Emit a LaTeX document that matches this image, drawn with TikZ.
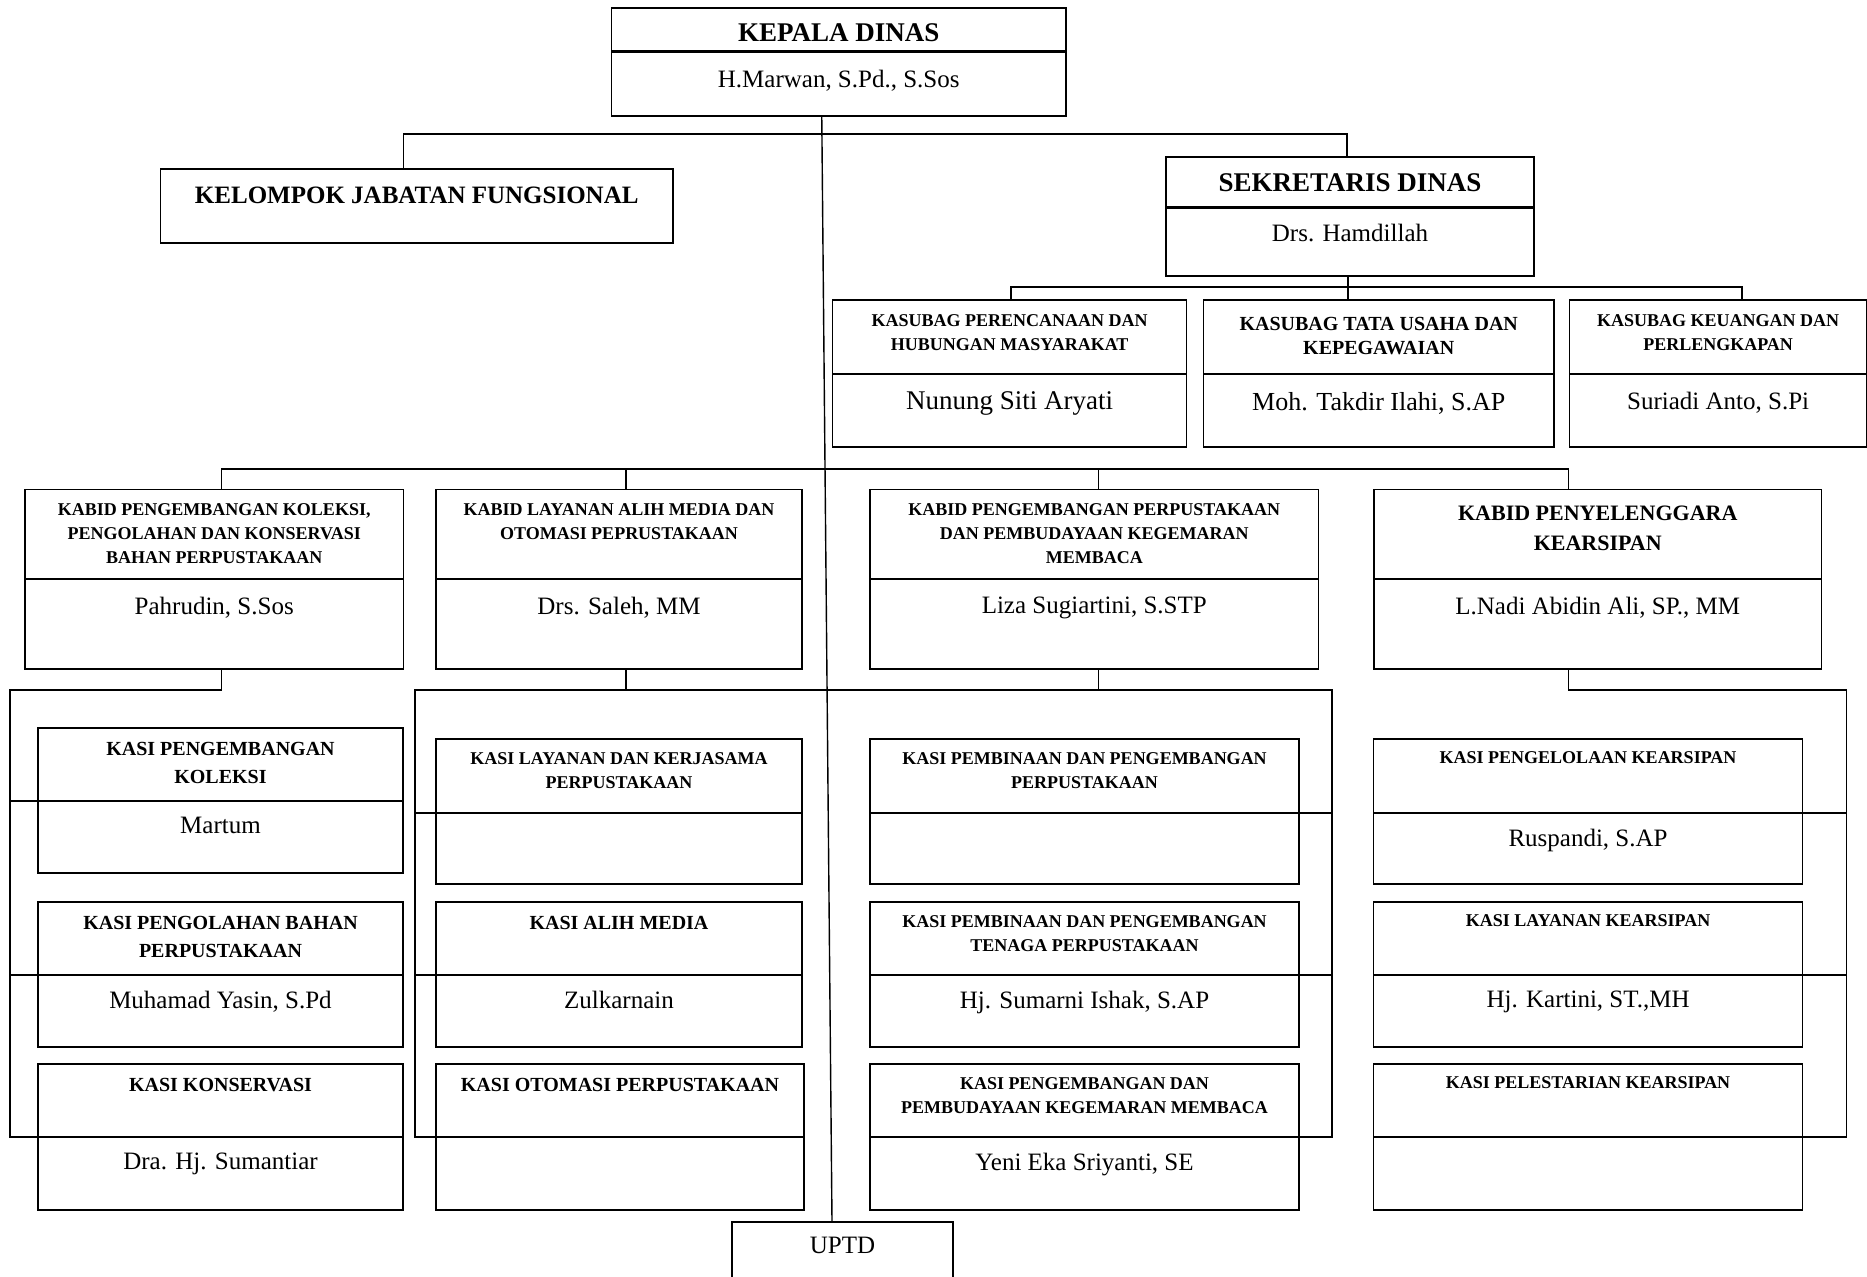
\documentclass[tikz,border=0pt]{standalone}
\usepackage{fontspec}
\setmainfont{Liberation Serif}
\usepackage{tikz}
\usetikzlibrary{calc}
\tikzset{
  kotak/.style={draw, line width=1.4pt, inner sep=0pt, outer sep=0pt, anchor=north west},
  garis/.style={line width=1.4pt},
  garisTebal/.style={line width=3pt}  % divider under KEPALA / SEKRETARIS
}
\newcommand{\Judul}[2]{\fontsize{#1}{#2}\selectfont\bfseries}
\newcommand{\Nama}[1]{\fontsize{#1}{#1}\selectfont}
\newcommand{\Kotak}[6]{% #1=name, #2=top left corner, #3=width, #4=height, #5=gap above text, #6=text
  \node[kotak] (#1) at (#2) {\parbox[c][#4pt][t]{#3pt}{\centering\vspace*{#5pt}\mbox{}#6\par}};%
}
\newcommand{\Jabatan}[9]{% #1=name, #2=corner, #3=width, #4/#5=heights, #6=gap, #7=title, #8=gap, #9=official
  \Kotak{#1}{#2}{#3}{#4}{#6}{#7}%
  \Kotak{#1n}{#1.south west}{#3}{#5}{#8}{#9}%
}

\begin{document}
\begin{tikzpicture}[x=1pt, y=-1pt]
  \useasboundingbox (0,0) rectangle (1867,1276);
  % top level
  \Jabatan{kd}{611.5,8}{454.5}{44}{64}{16}{\Judul{27}{32}KEPALA DINAS}{18.5}{\Nama{25}H.Marwan, S.Pd., S.Sos}
  \draw[garisTebal] (kdn.north west) -- (kdn.north east);
  \Kotak{kjf}{160.5,169}{512.5}{74}{17.7}{\Judul{25}{30}KELOMPOK JABATAN FUNGSIONAL}
  \Jabatan{sek}{1166,157}{368}{50}{69}{17}{\Judul{27}{32}SEKRETARIS DINAS}{16.7}{\Nama{25}Drs. Hamdillah}
  \draw[garisTebal] (sekn.north west) -- (sekn.north east);
  % kasubag
  \Jabatan{ks1}{832.7,300}{354}{74}{73}{14.8}{\Judul{18}{23.5}KASUBAG PERENCANAAN DAN\\ HUBUNGAN MASYARAKAT}{18}{\Nama{27}Nunung Siti Aryati}
  \Jabatan{ks2}{1203.5,300}{350.5}{74}{73}{17.4}{\Judul{20}{24}KASUBAG TATA USAHA DAN\\ KEPEGAWAIAN}{18.3}{\Nama{26}Moh. Takdir Ilahi, S.AP}
  \Jabatan{ks3}{1569.6,300}{297}{74}{73}{14.8}{\Judul{18}{23.5}KASUBAG KEUANGAN DAN\\ PERLENGKAPAN}{18.5}{\Nama{25}Suriadi Anto, S.Pi}
  % kabid
  \Jabatan{kb1}{25,489.5}{378.5}{89.5}{90}{14.5}{\Judul{18}{24}KABID PENGEMBANGAN KOLEKSI,\\ PENGOLAHAN DAN KONSERVASI\\ BAHAN PERPUSTAKAAN}{17.7}{\Nama{25}Pahrudin, S.Sos}
  \Jabatan{kb2}{436,489.5}{366}{89.5}{90}{14.5}{\Judul{18}{24}KABID LAYANAN ALIH MEDIA DAN\\ OTOMASI PEPRUSTAKAAN}{17.7}{\Nama{25}Drs. Saleh, MM}
  \Jabatan{kb3}{870,489.5}{448.5}{89.5}{90}{14.5}{\Judul{18}{24}KABID PENGEMBANGAN PERPUSTAKAAN\\ DAN PEMBUDAYAAN KEGEMARAN\\ MEMBACA}{17.7}{\Nama{25}Liza Sugiartini, S.STP}
  \Jabatan{kb4}{1374,489.5}{447.5}{89.5}{90}{16.2}{\Judul{22}{30}KABID PENYELENGGARA\\ KEARSIPAN}{17.7}{\Nama{25}L.Nadi Abidin Ali, SP., MM}
  % kasi, column 1
  \Jabatan{k11}{38,728}{365}{73}{72}{14.4}{\Judul{20}{28}KASI PENGEMBANGAN\\ KOLEKSI}{16}{\Nama{25}Martum}
  \Jabatan{k12}{38,902}{365}{73}{72}{14.4}{\Judul{20}{28}KASI PENGOLAHAN BAHAN\\ PERPUSTAKAAN}{16}{\Nama{25}Muhamad Yasin, S.Pd}
  \Jabatan{k13}{38,1064}{365}{73}{73}{14.4}{\Judul{20}{28}KASI KONSERVASI}{16}{\Nama{25}Dra. Hj. Sumantiar}
  % kasi, column 2
  \Jabatan{k21}{436,739}{366}{74}{71}{14}{\Judul{18}{24}KASI LAYANAN DAN KERJASAMA\\ PERPUSTAKAAN}{16}{}
  \Jabatan{k22}{436,902}{366}{73}{72}{14.4}{\Judul{20}{28}KASI ALIH MEDIA}{16}{\Nama{25}Zulkarnain}
  \Jabatan{k23}{436,1064}{368}{73}{73}{14.4}{\Judul{20}{28}KASI OTOMASI PERPUSTAKAAN}{16}{}
  % kasi, column 3
  \Jabatan{k31}{870,739}{429}{74}{71}{14}{\Judul{18}{24}KASI PEMBINAAN DAN PENGEMBANGAN\\ PERPUSTAKAAN}{16}{}
  \Jabatan{k32}{870,902}{429}{73}{72}{13.7}{\Judul{18}{24}KASI PEMBINAAN DAN PENGEMBANGAN\\ TENAGA PERPUSTAKAAN}{16}{\Nama{25}Hj. Sumarni Ishak, S.AP}
  \Jabatan{k33}{870,1064}{429}{73}{73}{14}{\Judul{18}{24}KASI PENGEMBANGAN DAN\\ PEMBUDAYAAN KEGEMARAN MEMBACA}{16}{\Nama{25}Yeni Eka Sriyanti, SE}
  % kasi, column 4
  \Jabatan{k41}{1373.4,739}{429.3}{74}{71}{13}{\Judul{18}{24}KASI PENGELOLAAN KEARSIPAN}{16}{\Nama{25}Ruspandi, S.AP}
  \Jabatan{k42}{1373.4,902}{429.3}{73}{72}{13}{\Judul{18}{24}KASI LAYANAN KEARSIPAN}{16}{\Nama{25}Hj. Kartini, ST.,MH}
  \Jabatan{k43}{1373.4,1064}{429.3}{73}{73}{13}{\Judul{18}{24}KASI PELESTARIAN KEARSIPAN}{16}{}
  \Kotak{uptd}{732,1222}{221}{70}{14.7}{\Nama{25}UPTD}

  % lines of command
  \draw[garis] ([xshift=-17pt]kdn.south) -- ([xshift=-10.5pt]uptd.north);
  \draw[garis] ([xshift=-13pt]kjf.north) -- ++(0,-35) -| ([xshift=-3pt]sek.north);
  \draw[garis] ([xshift=-2pt]sekn.south) -- ([xshift=-2pt]sekn.south |- ks2.north);
  \draw[garis] ([xshift=1.3pt]ks1.north) -- ++(0,-13) -| ([xshift=24pt]ks3.north);
  \draw[garis] ([xshift=7pt]kb1.north) -- ++(0,-20.5) -| ([xshift=-29pt]kb4.north);
  \draw[garis] ([xshift=7pt]kb2.north) -- ++(0,-20.5);
  \draw[garis] ([xshift=4pt]kb3.north) -- ++(0,-20.5);
  % column 1 bracket
  \draw[garis] ([xshift=7pt]kb1n.south) -- ++(0,21) -| ([xshift=-28pt]k13n.north west) -- (k13n.north west);
  \foreach \k in {k11n,k12n} \draw[garis] (\k.north west) -- ++(-28,0);
  % columns 2 and 3 bracket
  \coordinate (cab23) at ($([xshift=7pt]kb2n.south)+(0,21)$);
  \draw[garis] ([xshift=7pt]kb2n.south) -- (cab23);
  \draw[garis] ([xshift=4pt]kb3n.south) -- ++(0,21);
  \draw[garis] (k23n.north west) -- ++(-21,0) |- (cab23) -| ([xshift=33pt]k33n.north east) -- (k33n.north east);
  \foreach \k in {k21n,k22n} \draw[garis] (\k.north west) -- ++(-21,0);
  \foreach \k in {k31n,k32n} \draw[garis] (\k.north east) -- ++(33,0);
  % column 4 bracket
  \draw[garis] ([xshift=-29pt]kb4n.south) -- ++(0,21) -| ([xshift=44pt]k43n.north east) -- (k43n.north east);
  \foreach \k in {k41n,k42n} \draw[garis] (\k.north east) -- ++(44,0);
\end{tikzpicture}
\end{document}
